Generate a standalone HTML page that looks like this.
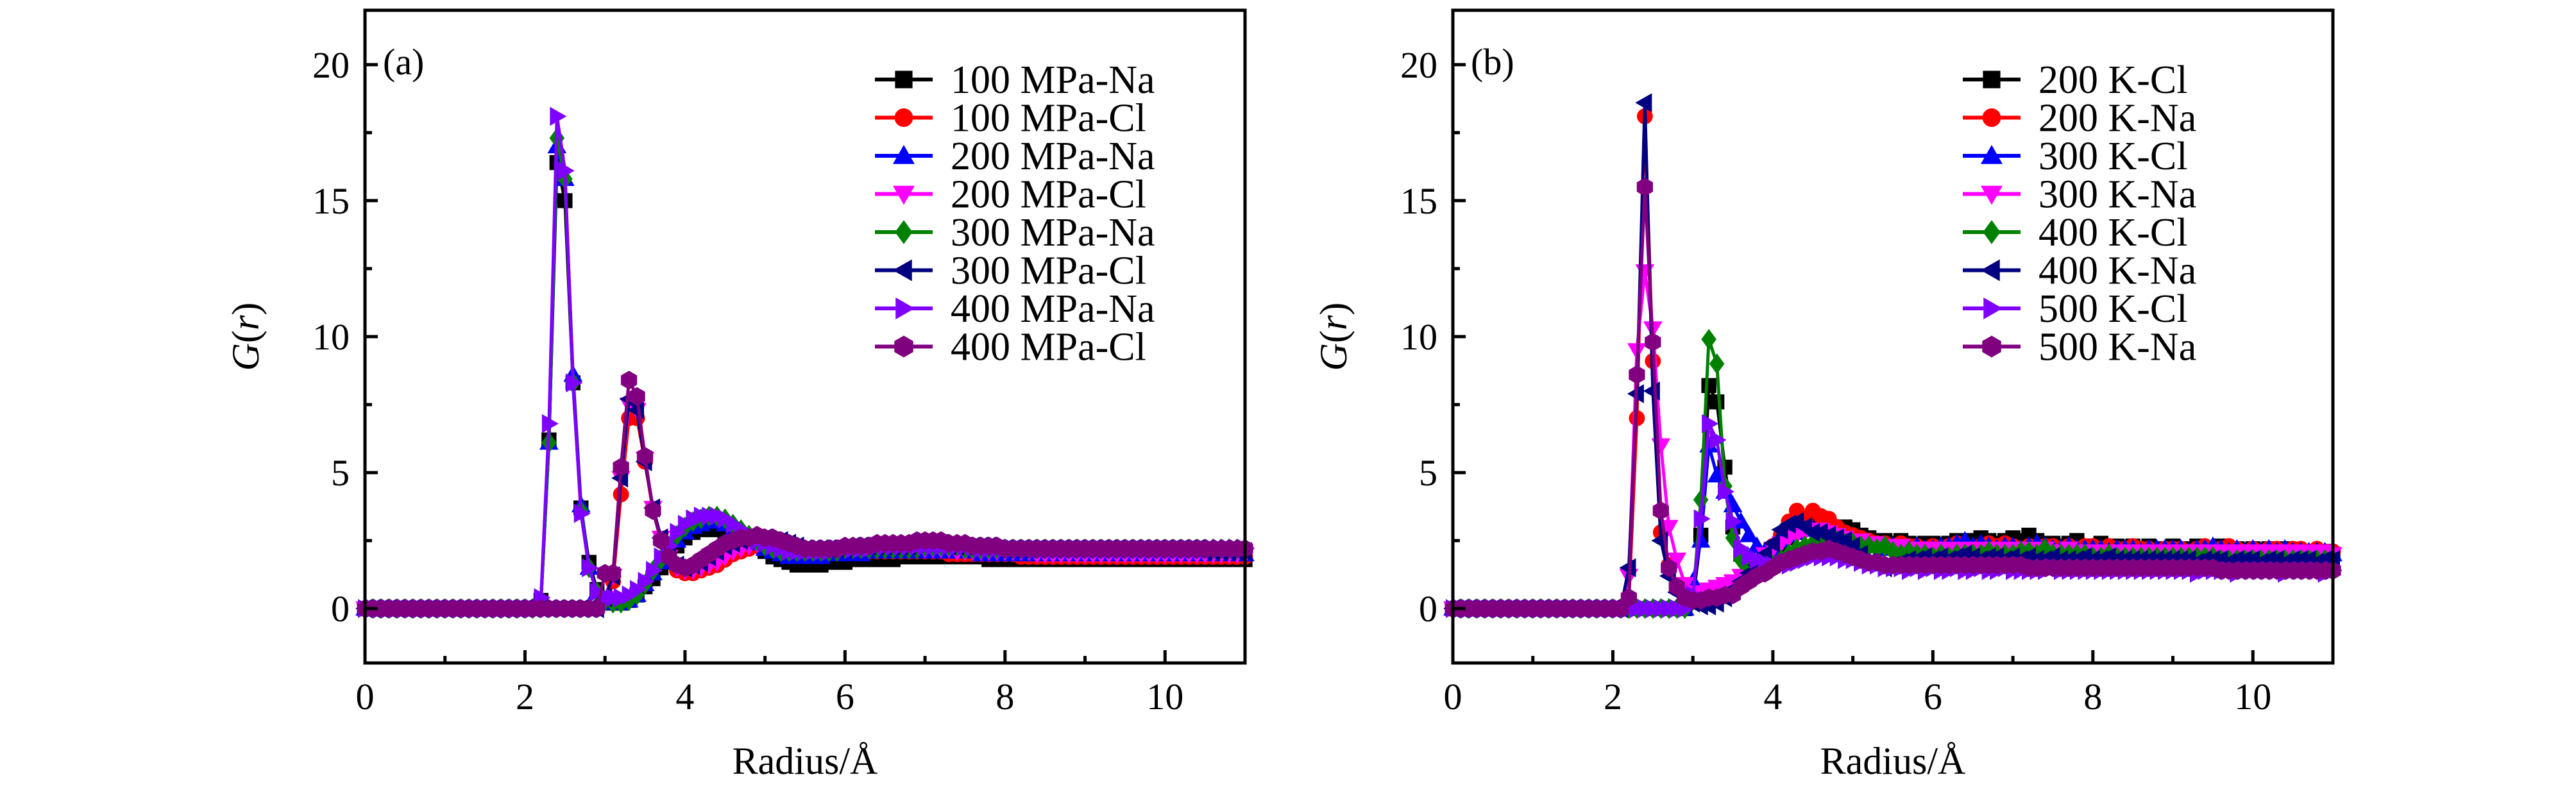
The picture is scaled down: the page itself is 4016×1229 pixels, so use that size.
<!DOCTYPE html>
<html><head><meta charset="utf-8">
<style>
html,body{margin:0;padding:0;background:#fff;}
svg{display:block;font-family:"Liberation Serif",serif;}
</style></head>
<body>
<svg id="fig" width="4016" height="1229" viewBox="0 0 4016 1229" xmlns="http://www.w3.org/2000/svg"></svg>
<script>
// ---- shared axis data ----
const radiusValues = [0,0.1,0.2,0.3,0.4,0.5,0.6,0.7,0.8,0.9,1,1.1,1.2,1.3,1.4,1.5,1.6,1.7,1.8,1.9,2,2.1,2.2,2.3,2.4,2.5,2.6,2.7,2.8,2.9,3,3.1,3.2,3.3,3.4,3.5,3.6,3.7,3.8,3.9,4,4.1,4.2,4.3,4.4,4.5,4.6,4.7,4.8,4.9,5,5.1,5.2,5.3,5.4,5.5,5.6,5.7,5.8,5.9,6,6.1,6.2,6.3,6.4,6.5,6.6,6.7,6.8,6.9,7,7.1,7.2,7.3,7.4,7.5,7.6,7.7,7.8,7.9,8,8.1,8.2,8.3,8.4,8.5,8.6,8.7,8.8,8.9,9,9.1,9.2,9.3,9.4,9.5,9.6,9.7,9.8,9.9,10,10.1,10.2,10.3,10.4,10.5,10.6,10.7,10.8,10.9,11];
const xTickLabels = [0,2,4,6,8,10];
const yTickLabels = [0,5,10,15,20];

// ---- panel (a) series ----
const a100Na = [0,0,0,0,0,0,0,0,0,0,0,0,0,0,0,0,0,0,0,0,0,0, 0.3,6.2,16.4,15.0,8.3,3.7,1.7,0.7, 0.3,0.2,0.2,0.3,0.5,0.8,1.1,1.5,1.9,2.3, 2.6,2.8,2.9,2.9,2.9,2.8,2.7,2.6,2.5,2.3, 2.1,1.9,1.8,1.7,1.6,1.6,1.6,1.6,1.7,1.7, 1.7,1.8,1.8,1.8,1.8,1.8,1.8,1.9,1.9,1.9, 1.9,1.9,1.9,1.9,1.9,1.9,1.9,1.9,1.8,1.8, 1.8,1.8,1.8,1.8,1.8,1.8,1.8,1.8,1.8,1.8, 1.8,1.8,1.8,1.8,1.8,1.8,1.8,1.8,1.8,1.8, 1.8,1.8,1.8,1.8,1.8,1.8,1.8,1.8,1.8,1.8,1.8];
const a100Cl = [0,0,0,0,0,0,0,0,0,0,0,0,0,0,0,0,0,0,0,0,0,0, 0,0,0,0,0,0,0,0, 0.3,1.0,4.2,7.0,7.0,5.4,3.6,2.5,1.8,1.4, 1.3,1.3,1.4,1.5,1.6,1.8,2.0,2.1,2.2,2.3, 2.3,2.3,2.3,2.2,2.2,2.1,2.1,2.1,2.1,2.1, 2.1,2.1,2.1,2.1,2.1,2.1,2.1,2.1,2.1,2.1, 2.1,2.1,2.1,2.0,2.0,2.0,2.0,2.0,2.0,2.0, 2.0,2.0,1.9,1.9,1.9,1.9,1.9,1.9,1.9,1.9, 1.9,1.9,1.9,1.9,1.9,1.9,1.9,1.9,1.9,1.9, 1.9,1.9,1.9,1.9,1.9,1.9,1.9,1.9,1.9,1.9,1.9];
const a200Na = [0,0,0,0,0,0,0,0,0,0,0,0,0,0,0,0,0,0,0,0,0,0, 0.3,6.1,17.0,15.8,8.6,3.8,1.5,0.6, 0.3,0.2,0.2,0.3,0.5,0.9,1.3,1.7,2.1,2.5, 2.8,3.0,3.1,3.2,3.2,3.1,2.9,2.8,2.6,2.4, 2.2,2.1,2.0,1.9,1.9,1.9,1.9,1.9,2.0,2.0, 2.0,2.0,2.0,2.1,2.1,2.1,2.1,2.1,2.1,2.1, 2.1,2.1,2.1,2.1,2.1,2.1,2.1,2.0,2.0,2.0, 2.0,2.0,2.0,2.0,2.0,2.0,2.0,2.0,2.0,2.0, 2.0,2.0,2.0,2.0,2.0,2.0,2.0,2.0,2.0,2.0, 2.0,2.0,2.0,2.0,2.0,2.0,2.0,2.0,2.0,2.0,2.0];
const a200Cl = [0,0,0,0,0,0,0,0,0,0,0,0,0,0,0,0,0,0,0,0,0,0, 0,0,0,0,0,0,0,0, 0.4,1.2,4.8,7.5,7.3,5.5,3.7,2.6,1.9,1.5, 1.4,1.4,1.5,1.6,1.7,1.9,2.1,2.2,2.3,2.4, 2.4,2.4,2.3,2.3,2.2,2.2,2.2,2.2,2.2,2.2, 2.2,2.2,2.2,2.2,2.2,2.2,2.2,2.2,2.2,2.2, 2.2,2.2,2.2,2.2,2.1,2.1,2.1,2.1,2.1,2.1, 2.1,2.1,2.1,2.1,2.0,2.0,2.0,2.0,2.0,2.0, 2.0,2.0,2.0,2.0,2.0,2.0,2.0,2.0,2.0,2.0, 2.0,2.0,2.0,2.0,2.0,2.0,2.0,2.0,2.0,2.0,2.0];
const a300Na = [0,0,0,0,0,0,0,0,0,0,0,0,0,0,0,0,0,0,0,0,0,0, 0.3,6.1,17.3,15.8,8.3,3.6,1.5,0.6, 0.3,0.2,0.2,0.3,0.5,0.9,1.4,1.8,2.3,2.7, 3.0,3.2,3.3,3.4,3.4,3.3,3.1,2.9,2.7,2.5, 2.3,2.2,2.1,2.1,2.1,2.1,2.1,2.1,2.1,2.1, 2.2,2.2,2.2,2.2,2.2,2.2,2.2,2.2,2.2,2.2, 2.3,2.3,2.3,2.3,2.3,2.2,2.2,2.2,2.2,2.2, 2.2,2.2,2.2,2.2,2.2,2.2,2.2,2.2,2.2,2.2, 2.2,2.2,2.2,2.2,2.2,2.2,2.2,2.2,2.2,2.2, 2.2,2.2,2.2,2.2,2.2,2.2,2.2,2.2,2.2,2.2,2.2];
const a300Cl = [0,0,0,0,0,0,0,0,0,0,0,0,0,0,0,0,0,0,0,0,0,0, 0,0,0,0,0,0,0,0, 0.4,1.2,4.8,7.7,7.3,5.4,3.7,2.6,1.9,1.6, 1.5,1.6,1.7,1.9,2.1,2.3,2.4,2.5,2.6,2.6, 2.6,2.5,2.5,2.4,2.3,2.2,2.2,2.2,2.2,2.2, 2.2,2.3,2.3,2.3,2.3,2.3,2.3,2.3,2.3,2.4, 2.4,2.4,2.4,2.3,2.3,2.3,2.3,2.3,2.3,2.2, 2.2,2.2,2.2,2.2,2.2,2.2,2.2,2.2,2.2,2.2, 2.2,2.2,2.2,2.2,2.2,2.2,2.2,2.2,2.2,2.2, 2.2,2.2,2.2,2.2,2.2,2.1,2.1,2.1,2.1,2.1,2.1];
const a400Na = [0,0,0,0,0,0,0,0,0,0,0,0,0,0,0,0,0,0,0,0,0,0, 0.4,6.8,18.1,16.1,8.3,3.5,1.5,0.6, 0.4,0.4,0.4,0.5,0.7,1.0,1.4,1.9,2.3,2.8, 3.1,3.3,3.4,3.4,3.4,3.3,3.1,2.9,2.7,2.5, 2.4,2.3,2.2,2.1,2.1,2.1,2.1,2.1,2.1,2.2, 2.2,2.2,2.2,2.2,2.3,2.3,2.3,2.3,2.3,2.3, 2.3,2.3,2.3,2.3,2.3,2.3,2.3,2.2,2.2,2.2, 2.2,2.2,2.2,2.2,2.2,2.2,2.2,2.2,2.2,2.2, 2.2,2.2,2.2,2.2,2.2,2.2,2.2,2.2,2.2,2.2, 2.2,2.2,2.2,2.2,2.2,2.2,2.2,2.2,2.2,2.2,2.2];
const a400Cl = [0,0,0,0,0,0,0,0,0,0,0,0,0,0,0,0,0,0,0,0,0,0, 0,0,0,0,0,0,0,0, 1.3,1.3,5.2,8.4,7.8,5.6,3.6,2.5,1.9,1.6, 1.5,1.6,1.8,2.0,2.2,2.4,2.5,2.6,2.6,2.7, 2.6,2.6,2.5,2.4,2.3,2.2,2.2,2.2,2.2,2.2, 2.3,2.3,2.3,2.3,2.4,2.4,2.4,2.4,2.4,2.5, 2.5,2.5,2.5,2.4,2.4,2.4,2.3,2.3,2.3,2.3, 2.2,2.2,2.2,2.2,2.2,2.2,2.2,2.2,2.2,2.2, 2.2,2.2,2.2,2.2,2.2,2.2,2.2,2.2,2.2,2.2, 2.2,2.2,2.2,2.2,2.2,2.2,2.2,2.2,2.2,2.2,2.2];

// ---- panel (b) series ----
const b200Cl = [0,0,0,0,0,0,0,0,0,0,0,0,0,0,0,0,0,0,0,0,0,0, 0,0,0,0,0,0,0,0, 0.3,2.7,8.2,7.6,5.2,3.0,2.0,1.5,1.4,1.5, 1.8,2.2,2.6,2.8,3.0,3.1,3.1,3.0,3.0,3.0, 2.9,2.7,2.6,2.5,2.5,2.4,2.5,2.4,2.3,2.4, 2.4,2.3,2.4,2.5,2.4,2.5,2.6,2.5,2.4,2.5, 2.6,2.5,2.7,2.5,2.4,2.4,2.3,2.4,2.5,2.3, 2.3,2.4,2.3,2.3,2.2,2.3,2.2,2.3,2.2,2.2, 2.3,2.2,2.2,2.3,2.2,2.2,2.3,2.2,2.2,2.1, 2.2,2.1,2.2,2.1,2.2,2.1,2.1,2.1,2.1,2.1,2.0];
const b200Na = [0,0,0,0,0,0,0,0,0,0,0,0,0,0,0,0,0,0,0,0,0,0, 0.3,7.0,18.1,9.1,2.8,1.6,0.8,0.5, 0.4,0.5,0.5,0.6,0.7,0.8,1.0,1.2,1.5,1.9, 2.3,2.7,3.2,3.6,3.3,3.6,3.4,3.3,3.0,2.8, 2.7,2.6,2.5,2.4,2.4,2.3,2.4,2.3,2.3,2.2, 2.3,2.2,2.3,2.4,2.3,2.2,2.3,2.4,2.3,2.4, 2.3,2.2,2.3,2.2,2.3,2.3,2.2,2.3,2.2,2.3, 2.3,2.2,2.3,2.2,2.2,2.3,2.2,2.2,2.1,2.2, 2.2,2.2,2.1,2.2,2.3,2.2,2.2,2.3,2.2,2.1, 2.2,2.1,2.2,2.2,2.1,2.2,2.2,2.1,2.2,2.1,2.1];
const b300Cl = [0,0,0,0,0,0,0,0,0,0,0,0,0,0,0,0,0,0,0,0,0,0, 0,0,0,0,0,0,0,0, 1.0,2.5,6.0,4.9,4.3,3.8,3.2,2.7,2.3,2.1, 2.2,2.5,2.7,2.8,2.9,2.9,2.8,2.7,2.6,2.5, 2.4,2.4,2.3,2.3,2.2,2.3,2.2,2.2,2.3,2.2, 2.2,2.3,2.3,2.4,2.5,2.3,2.4,2.3,2.2,2.3, 2.3,2.2,2.3,2.4,2.3,2.2,2.2,2.3,2.2,2.2, 2.2,2.2,2.1,2.2,2.2,2.2,2.1,2.2,2.2,2.2, 2.2,2.2,2.1,2.2,2.2,2.3,2.2,2.1,2.2,2.1, 2.2,2.1,2.2,2.1,2.2,2.1,2.1,2.1,2.1,2.1,2.0];
const b300Na = [0,0,0,0,0,0,0,0,0,0,0,0,0,0,0,0,0,0,0,0,0,0, 1.2,9.5,12.4,10.3,6.0,3.0,1.8,0.9, 0.6,0.6,0.7,0.8,0.9,1.0,1.2,1.4,1.7,2.0, 2.2,2.4,2.6,2.7,2.8,2.9,2.9,2.8,2.7,2.6, 2.5,2.5,2.4,2.4,2.3,2.3,2.3,2.2,2.2,2.2, 2.2,2.1,2.2,2.1,2.2,2.2,2.1,2.2,2.1,2.2, 2.2,2.1,2.2,2.1,2.2,2.1,2.1,2.2,2.1,2.1, 2.1,2.1,2.1,2.1,2.1,2.1,2.1,2.1,2.1,2.1, 2.1,2.1,2.1,2.1,2.1,2.1,2.1,2.1,2.1,2.1, 2.1,2.1,2.1,2.1,2.1,2.1,2.1,2.1,2.1,2.1,2.0];
const b400Cl = [0,0,0,0,0,0,0,0,0,0,0,0,0,0,0,0,0,0,0,0,0,0, 0,0,0,0,0,0,0,0, 0.3,4.0,9.9,9.0,4.5,2.6,1.8,1.5,1.4,1.5, 1.6,1.8,2.0,2.2,2.3,2.4,2.5,2.5,2.5,2.4, 2.4,2.3,2.3,2.2,2.3,2.1,2.0,2.1,2.0,2.0, 1.9,2.0,1.9,2.0,2.0,2.0,2.0,2.1,2.0,2.0, 2.0,2.1,2.1,2.0,2.2,2.0,2.0,2.0,2.0,2.0, 1.9,1.9,2.0,1.9,1.9,1.9,1.9,1.9,1.9,1.9, 1.9,1.9,1.9,1.9,1.9,1.9,1.8,1.8,1.8,1.8, 1.8,1.8,1.8,1.8,1.8,1.8,1.8,1.8,1.8,1.8,1.8];
const b400Na = [0,0,0,0,0,0,0,0,0,0,0,0,0,0,0,0,0,0,0,0,0,0, 1.5,7.9,18.6,8.0,2.5,1.2,0.6,0.3, 0.2,0.1,0.1,0.2,0.4,0.7,1.0,1.3,1.6,2.0, 2.4,2.9,3.1,3.2,3.0,2.8,2.8,2.7,2.6,2.5, 2.3,2.0,1.7,1.6,1.5,1.6,1.7,1.8,1.8,1.9, 1.8,1.9,1.8,1.9,2.0,1.9,1.8,1.9,1.9,1.8, 1.9,1.8,1.9,1.8,1.8,1.9,1.8,1.8,1.8,1.9, 1.8,1.8,1.9,1.8,1.8,1.8,1.8,1.8,1.8,1.8, 1.8,1.8,1.8,1.7,1.8,1.8,1.8,1.7,1.8,1.8, 1.8,1.7,1.8,1.8,1.7,1.8,1.8,1.8,1.7,1.8,1.8];
const b500Cl = [0,0,0,0,0,0,0,0,0,0,0,0,0,0,0,0,0,0,0,0,0,0, 0,0,0,0,0,0,0,0, 0.5,3.3,6.8,6.2,4.3,3.2,2.2,1.9,1.8,1.7, 1.6,1.6,1.6,1.7,1.8,1.9,1.9,1.9,1.9,1.8, 1.8,1.7,1.6,1.6,1.5,1.5,1.5,1.4,1.5,1.4, 1.5,1.4,1.4,1.5,1.4,1.4,1.5,1.4,1.4,1.5, 1.4,1.4,1.4,1.4,1.4,1.5,1.4,1.4,1.4,1.4, 1.4,1.4,1.4,1.4,1.4,1.4,1.4,1.4,1.4,1.4, 1.4,1.4,1.4,1.3,1.4,1.4,1.4,1.4,1.3,1.4, 1.4,1.4,1.4,1.4,1.3,1.4,1.4,1.4,1.4,1.3,1.4];
const b500Na = [0,0,0,0,0,0,0,0,0,0,0,0,0,0,0,0,0,0,0,0,0,0, 0.4,8.6,15.5,9.8,3.6,1.5,0.8,0.4, 0.3,0.3,0.4,0.4,0.5,0.5,0.8,1.0,1.2,1.3, 1.5,1.7,1.8,1.9,2.0,2.1,2.1,2.2,2.1,2.0, 1.9,1.8,1.7,1.7,1.6,1.6,1.6,1.6,1.6,1.6, 1.6,1.6,1.6,1.6,1.6,1.6,1.6,1.6,1.6,1.6, 1.6,1.6,1.5,1.5,1.5,1.5,1.5,1.5,1.5,1.5, 1.5,1.5,1.5,1.5,1.5,1.5,1.5,1.5,1.5,1.5, 1.5,1.5,1.5,1.5,1.5,1.5,1.4,1.4,1.4,1.4, 1.4,1.4,1.4,1.4,1.4,1.4,1.4,1.4,1.4,1.4,1.4];

const labelsA = ["100 MPa-Na","100 MPa-Cl","200 MPa-Na","200 MPa-Cl","300 MPa-Na","300 MPa-Cl","400 MPa-Na","400 MPa-Cl"];
const labelsB = ["200 K-Cl","200 K-Na","300 K-Cl","300 K-Na","400 K-Cl","400 K-Na","500 K-Cl","500 K-Na"];
const seriesA = [a100Na,a100Cl,a200Na,a200Cl,a300Na,a300Cl,a400Na,a400Cl];
const seriesB = [b200Cl,b200Na,b300Cl,b300Na,b400Cl,b400Na,b500Cl,b500Na];

const colors = ["#000000","#ff0000","#0000ff","#ff00ff","#008000","#000080","#8000ff","#800080"];
const shapes = ["square","circle","up","down","diamond","left","right","hex"];
const NS = "http://www.w3.org/2000/svg";
const svg = document.getElementById("fig");

function mk(tag, attrs, parent){
  const e = document.createElementNS(NS, tag);
  for (const k in attrs) e.setAttribute(k, attrs[k]);
  (parent||svg).appendChild(e);
  return e;
}
function markerPath(shape, cx, cy, r){
  if (shape==="square") return `M${cx-r*0.8},${cy-r*0.8}h${1.6*r}v${1.6*r}h${-1.6*r}z`;
  if (shape==="circle") return `M${cx-r*0.85},${cy}a${r*0.85},${r*0.85} 0 1,0 ${1.7*r},0a${r*0.85},${r*0.85} 0 1,0 ${-1.7*r},0z`;
  if (shape==="up") return `M${cx},${cy-r}L${cx+r},${cy+r*0.75}L${cx-r},${cy+r*0.75}z`;
  if (shape==="down") return `M${cx},${cy+r}L${cx+r},${cy-r*0.75}L${cx-r},${cy-r*0.75}z`;
  if (shape==="left") return `M${cx-r},${cy}L${cx+r*0.75},${cy-r}L${cx+r*0.75},${cy+r}z`;
  if (shape==="right") return `M${cx+r},${cy}L${cx-r*0.75},${cy-r}L${cx-r*0.75},${cy+r}z`;
  if (shape==="diamond") return `M${cx},${cy-r*1.1}L${cx+r*0.8},${cy}L${cx},${cy+r*1.1}L${cx-r*0.8},${cy}z`;
  if (shape==="hex"){let p="";for(let k=0;k<6;k++){const a=Math.PI/6+k*Math.PI/3;p+=(k?"L":"M")+(cx+r*Math.cos(a))+","+(cy+r*Math.sin(a));}return p+"z";}
  return "";
}

function drawPanel(cfg){
  const {x0, x1, y0, y1, series, labels, tag, panelName} = cfg;
  const g = mk("g", {});
  
  
  const xMin=0, xMax=11, yMin=-2, yMax=22;
  const sx = v => x0 + (v-xMin)/(xMax-xMin)*(x1-x0);
  const sy = v => y1 - (v-yMin)/(yMax-yMin)*(y1-y0);

  series.forEach((ys, si) => {
    const sg = mk("g", {}, g);
    
    
    let d = "";
    ys.forEach((v,i)=>{ d += (i?"L":"M") + sx(radiusValues[i]).toFixed(1) + "," + sy(v).toFixed(1); });
    const line = mk("path", {d, fill:"none", stroke:colors[si], "stroke-width":5, "stroke-linejoin":"round"}, sg);
    
    
    let md = "";
    ys.forEach((v,i)=>{ md += markerPath(shapes[si], sx(radiusValues[i]), sy(v), 14); });
    const marks = mk("path", {d:md, fill:colors[si], stroke:colors[si], "stroke-width":1}, sg);
    
    
  });

  const fr = mk("rect", {x:x0, y:y0, width:x1-x0, height:y1-y0, fill:"none", stroke:"#000", "stroke-width":5}, g);
  
  

  for (let v=0; v<=11; v++){
    const len = v%2===0 ? 20 : 11;
    const t = mk("line", {x1:sx(v), x2:sx(v), y1:y1, y2:y1-len, stroke:"#000", "stroke-width":5}, g);
    
    
  }
  xTickLabels.forEach(v=>{
    const t = mk("text", {x:sx(v), y:y1+72, "font-size":58, "text-anchor":"middle"}, g);
    
    
    t.textContent = v;
  });
  for (let v=0; v<=20; v+=2.5){
    const len = (v%5===0) ? 20 : 11;
    const t = mk("line", {x1:x0, x2:x0+len, y1:sy(v), y2:sy(v), stroke:"#000", "stroke-width":5}, g);
    
    
  }
  yTickLabels.forEach(v=>{
    const t = mk("text", {x:x0-24, y:sy(v)+20, "font-size":58, "text-anchor":"end"}, g);
    
    
    t.textContent = v;
  });
  const xt = mk("text", {x:(x0+x1)/2, y:1207, "font-size":60, "text-anchor":"middle"}, g);
  
  
  xt.textContent = "Radius/Å";
  const yt = mk("text", {x:0, y:0, "font-size":60, "text-anchor":"middle", transform:`translate(${x0-166},${(y0+y1)/2}) rotate(-90)`}, g);
  
  
  yt.innerHTML = '<tspan font-style="italic">G</tspan>(<tspan font-style="italic">r</tspan>)';
  const pt = mk("text", {x:x0+28, y:y0+100, "font-size":58}, g);
  
  
  pt.textContent = tag;

  const lx = x0 + 795, ly0 = y0 + 108, step = 59.5;
  labels.forEach((lab, i)=>{
    const lg = mk("g", {}, g);
    
    
    const y = ly0 + i*step;
    mk("line", {x1:lx, x2:lx+90, y1:y, y2:y, stroke:colors[i], "stroke-width":6}, lg);
    mk("path", {d:markerPath(shapes[i], lx+45, y, 17), fill:colors[i]}, lg);
    const tx = mk("text", {x:lx+118, y:y+21, "font-size":62}, lg);
    
    
    tx.textContent = lab;
  });
}

drawPanel({x0:569, x1:1941, y0:16, y1:1034, series:seriesA, labels:labelsA, tag:"(a)", panelName:"panel-a-pressure"});
drawPanel({x0:2265, x1:3637, y0:16, y1:1034, series:seriesB, labels:labelsB, tag:"(b)", panelName:"panel-b-temperature"});
</script>
</body></html>
